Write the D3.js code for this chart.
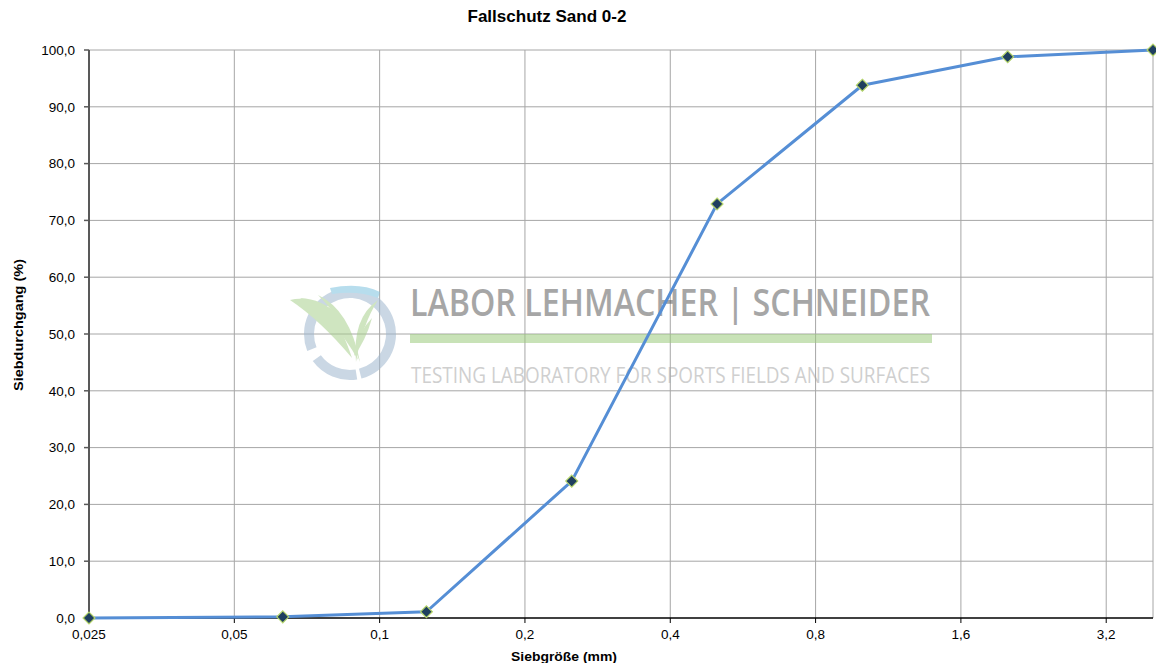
<!DOCTYPE html>
<html><head><meta charset="utf-8">
<script src="https://cdn.jsdelivr.net/npm/d3@7"></script>
<style>body{margin:0;background:#fff}svg{display:block}</style>
</head><body>
<script>
const title = "Fallschutz Sand 0-2";
const xLabel = "Siebgröße (mm)";
const yLabel = "Siebdurchgang (%)";
const sieveSizes = [0.025, 0.063, 0.125, 0.25, 0.5, 1.0, 2.0, 4.0];
const passing = [0.0, 0.2, 1.1, 24.1, 72.9, 93.8, 98.8, 100.0];
const xTicks = [0.025, 0.05, 0.1, 0.2, 0.4, 0.8, 1.6, 3.2];
const xTickLabels = ["0,025", "0,05", "0,1", "0,2", "0,4", "0,8", "1,6", "3,2"];
const yTicks = [0, 10, 20, 30, 40, 50, 60, 70, 80, 90, 100];

const W = 1156, H = 663;
const m = {left: 89, right: 3, top: 50, bottom: 45};
const svg = d3.select("body").append("svg").attr("width", W).attr("height", H);
const x = d3.scaleLog().domain([0.025, 4.0]).range([m.left, W - m.right]);
const y = d3.scaleLinear().domain([0, 100]).range([H - m.bottom, m.top]);
const font = "Arial, 'Liberation Sans', sans-serif";

// gridlines
const g = svg.append("g");
g.selectAll(".hg").data(yTicks.filter(d => d > 0)).join("line")
  .attr("x1", m.left).attr("x2", W - m.right)
  .attr("y1", d => y(d)).attr("y2", d => y(d))
  .attr("stroke", "#a6a6a6").attr("stroke-width", 1);
g.selectAll(".vg").data(xTicks.slice(1)).join("line")
  .attr("x1", d => x(d)).attr("x2", d => x(d))
  .attr("y1", m.top).attr("y2", H - m.bottom)
  .attr("stroke", "#a6a6a6").attr("stroke-width", 1);
g.append("line").attr("x1", W - m.right).attr("x2", W - m.right)
  .attr("y1", m.top).attr("y2", H - m.bottom).attr("stroke", "#a6a6a6");

// watermark
const wm = svg.append("g").attr("opacity", 0.55);
const arc = d3.arc().innerRadius(36).outerRadius(46);
wm.append("path").attr("transform", "translate(350,334)")
  .attr("d", arc({startAngle: -Math.PI * 0.62, endAngle: Math.PI * 0.92}))
  .attr("fill", "#9fb7cf");
wm.append("path").attr("transform", "translate(350,334)")
  .attr("d", arc({startAngle: Math.PI * 0.95, endAngle: Math.PI * 1.3}))
  .attr("fill", "#9fb7cf");
wm.append("path").attr("d", "M330,288 Q360,282 380,292 L378,298 Q358,290 332,294 Z").attr("fill", "#7dc3e0");
const leaves = [
  "M290,300 Q330,290 352,358 Q320,320 290,300 Z",
  "M300,298 Q345,300 358,360 Q335,318 300,298 Z",
  "M318,295 Q350,310 360,362 Q345,322 318,295 Z",
  "M378,300 Q352,318 356,362 Q362,325 378,300 Z",
  "M372,318 Q358,332 354,356 Q366,340 372,318 Z"
];
wm.selectAll(".leaf").data(leaves).join("path").attr("d", d => d)
  .attr("fill", "#a9d08e");
wm.append("text").attr("x", 410).attr("y", 316)
  .attr("font-family", "'Open Sans', sans-serif").attr("font-size", 38).attr("font-weight", 600)
  .attr("textLength", 520).attr("lengthAdjust", "spacingAndGlyphs")
  .attr("fill", "#5e5e5e").text("LABOR LEHMACHER | SCHNEIDER");
wm.append("rect").attr("x", 410).attr("y", 334).attr("width", 522).attr("height", 9)
  .attr("fill", "#9ccb7d");
wm.append("text").attr("x", 411).attr("y", 383)
  .attr("font-family", "'Open Sans', sans-serif").attr("font-size", 22)
  .attr("textLength", 519).attr("lengthAdjust", "spacingAndGlyphs")
  .attr("fill", "#a8a8a8").text("TESTING LABORATORY FOR SPORTS FIELDS AND SURFACES");

// axes
svg.append("line").attr("x1", m.left).attr("x2", m.left)
  .attr("y1", m.top).attr("y2", H - m.bottom).attr("stroke", "#595959").attr("stroke-width", 2);
svg.append("line").attr("x1", m.left).attr("x2", W - m.right)
  .attr("y1", H - m.bottom).attr("y2", H - m.bottom).attr("stroke", "#000").attr("stroke-width", 1.5);

// y ticks
svg.selectAll(".yt").data(yTicks).join("line")
  .attr("x1", m.left - 5).attr("x2", m.left).attr("y1", d => y(d)).attr("y2", d => y(d))
  .attr("stroke", "#595959").attr("stroke-width", 1.5);
svg.selectAll(".ytl").data(yTicks).join("text")
  .attr("x", m.left - 14).attr("y", d => y(d)).attr("dy", "0.35em")
  .attr("text-anchor", "end").attr("font-family", font).attr("font-size", 13.5)
  .attr("fill", "#000").text(d => d.toFixed(1).replace(".", ","));
// x ticks
svg.selectAll(".xt").data(xTicks).join("line")
  .attr("x1", d => x(d)).attr("x2", d => x(d))
  .attr("y1", H - m.bottom).attr("y2", H - m.bottom + 5)
  .attr("stroke", "#000");
svg.selectAll(".xtl").data(xTicks).join("text")
  .attr("x", d => x(d)).attr("y", H - m.bottom + 21)
  .attr("text-anchor", "middle").attr("font-family", font).attr("font-size", 13.5)
  .attr("fill", "#000").text((d, i) => xTickLabels[i]);

// line
const line = d3.line().x((d, i) => x(sieveSizes[i])).y(d => y(d));
svg.append("path").datum(passing).attr("d", line)
  .attr("fill", "none").attr("stroke", "#558ed5").attr("stroke-width", 3)
  .attr("stroke-linejoin", "round");
// markers
svg.selectAll(".mk").data(passing).join("path")
  .attr("transform", (d, i) => `translate(${x(sieveSizes[i])},${y(d)})`)
  .attr("d", d3.symbol().type(d3.symbolDiamond2).size(90))
  .attr("fill", "#1f3f5f").attr("stroke", "#b4d46a").attr("stroke-width", 1.2);

// labels
svg.append("text").attr("x", 547).attr("y", 22).attr("text-anchor", "middle")
  .attr("font-family", font).attr("font-size", 16.5).attr("font-weight", "bold")
  .attr("textLength", 159).attr("lengthAdjust", "spacingAndGlyphs").text(title);
svg.append("text").attr("x", 564).attr("y", 661).attr("text-anchor", "middle")
  .attr("font-family", font).attr("font-size", 13).attr("font-weight", "bold")
  .attr("textLength", 106).attr("lengthAdjust", "spacingAndGlyphs").text(xLabel);
svg.append("text").attr("transform", "translate(23,325) rotate(-90)").attr("text-anchor", "middle")
  .attr("font-family", font).attr("font-size", 13).attr("font-weight", "bold")
  .attr("textLength", 132).attr("lengthAdjust", "spacingAndGlyphs").text(yLabel);
</script>
</body></html>
